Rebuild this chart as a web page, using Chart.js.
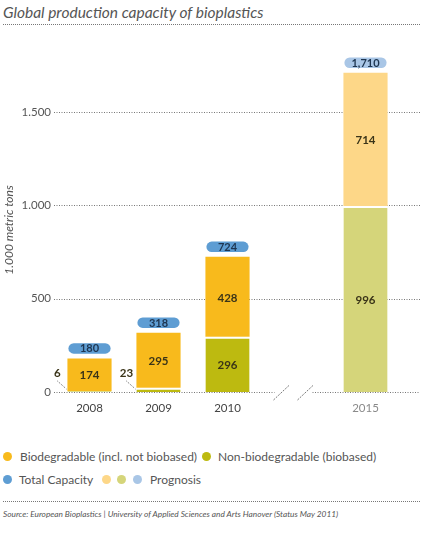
<!DOCTYPE html>
<html><head><meta charset="utf-8">
<script src="https://cdn.jsdelivr.net/npm/chart.js@4"></script>
<style>
body{margin:0;width:425px;height:545px;background:#fff;font-family:Lato,"Open Sans",sans-serif;color:#555;position:relative;overflow:hidden}
#title{position:absolute;left:3px;top:1px;font-style:italic;font-size:15.5px;line-height:22px;color:#555;white-space:nowrap}
.dl{position:absolute;left:3px;width:417px;height:0;border-top:1px dotted #777}
#wrap{position:absolute;left:0;top:40px;width:425px;height:380px}
.leg{position:absolute;font-size:12px;line-height:14px;color:#555;white-space:nowrap}
.dot{position:absolute;width:9px;height:9px;border-radius:50%}
#src{position:absolute;left:3px;top:509px;font-style:italic;font-size:8.3px;line-height:10px;color:#555;white-space:nowrap}
</style></head>
<body>
<div id="title">Global production capacity of bioplastics</div>
<div class="dl" style="top:24px"></div>
<div id="wrap"><canvas id="c"></canvas></div>

<div class="dot" style="left:3px;top:452px;background:#F8BA1C"></div>
<div class="leg" style="left:20px;top:450px">Biodegradable (incl. not biobased)</div>
<div class="dot" style="left:202px;top:452px;background:#BDBA10"></div>
<div class="leg" style="left:218px;top:450px">Non-biodegradable (biobased)</div>
<div class="dot" style="left:3px;top:475px;background:#5E9DD3"></div>
<div class="leg" style="left:19px;top:473px">Total Capacity</div>
<div class="dot" style="left:102px;top:475px;background:#FDD788"></div>
<div class="dot" style="left:117px;top:475px;background:#D5D57A"></div>
<div class="dot" style="left:133px;top:475px;background:#A9C6E6"></div>
<div class="leg" style="left:150px;top:473px">Prognosis</div>

<div class="dl" style="top:501px"></div>
<div id="src">Source: European Bioplastics | University of Applied Sciences and Arts Hanover (Status May 2011)</div>

<script>
const categories = ['2008', '2009', '2010', '', '2015'];
const nonBiodegradable = [6, 23, 296, null, 996];
const biodegradable = [174, 295, 428, null, 714];
const totalCapacity = [180, 318, 724, null, 1710];
const yTickValues = [0, 500, 1000, 1500];
const yTickLabels = ['0', '500', '1.000', '1.500'];
const prognosisCategory = '2015';
const breakAfterCategory = '2010';

const COL = {
  bio: '#F8BA1C', bioP: '#FDD788',
  non: '#BDBA10', nonP: '#D5D57A',
  tot: '#5E9DD3', totP: '#A9C6E6'
};
const isProg = i => categories[i] === prognosisCategory;

const overlay = {
  id: 'overlay',
  beforeDatasetsDraw(chart) {
    const {ctx, chartArea, scales: {x, y}} = chart;
    ctx.save();
    ctx.strokeStyle = '#777';
    ctx.lineWidth = 1;
    ctx.setLineDash([1, 1.5]);
    const right = 420;
    const bi = categories.indexOf(breakAfterCategory) + 1;
    const bx = (x.getPixelForValue(bi) + x.getPixelForValue(bi - 1)) / 2 + (x.getPixelForValue(bi + 1) - x.getPixelForValue(bi - 1)) / 4 - 3;
    yTickValues.forEach(v => {
      const py = Math.round(y.getPixelForValue(v)) + 0.5;
      ctx.beginPath();
      if (v === 0) {
        ctx.moveTo(chartArea.left - 1, py); ctx.lineTo(bx - 19, py);
        ctx.moveTo(bx + 19, py); ctx.lineTo(right, py);
      } else {
        ctx.moveTo(chartArea.left - 1, py); ctx.lineTo(right, py);
      }
      ctx.stroke();
    });
    const base = y.getPixelForValue(0);
    ctx.setLineDash([2, 1.2]);
    [-12, 12].forEach(d => {
      ctx.beginPath();
      ctx.moveTo(bx + d - 8, base + 8);
      ctx.lineTo(bx + d + 8, base - 7);
      ctx.stroke();
    });
    ctx.restore();
  },
  afterDatasetsDraw(chart) {
    const {ctx, scales: {x, y}} = chart;
    ctx.save();
    const base = y.getPixelForValue(0);
    chart.data.datasets.forEach((ds, di) => {
      chart.getDatasetMeta(di).data.forEach((bar, i) => {
        const v = ds.data[i];
        if (v == null) return;
        ctx.font = 'bold 11.5px Lato, "Open Sans", sans-serif';
        ctx.fillStyle = '#3a3418';
        ctx.textAlign = 'center';
        ctx.textBaseline = 'middle';
        if (v >= 50) {
          ctx.fillText(String(v), bar.x, (bar.y + bar.base) / 2 + 1);
        } else {
          const left = bar.x - bar.width / 2;
          const lx = left - 10;
          ctx.fillText(String(v), lx, base - 19);
          ctx.strokeStyle = '#555';
          ctx.lineWidth = 1;
          ctx.setLineDash([1, 1.3]);
          ctx.beginPath();
          ctx.moveTo(lx, base - 11);
          ctx.lineTo(left - 1, base - 3);
          ctx.stroke();
          ctx.setLineDash([]);
        }
      });
    });
    const meta = chart.getDatasetMeta(1);
    totalCapacity.forEach((t, i) => {
      if (t == null) return;
      const bar = meta.data[i];
      const py = y.getPixelForValue(t) - 10;
      const w = bar.width - 2, h = 10.5;
      ctx.fillStyle = isProg(i) ? COL.totP : COL.tot;
      ctx.beginPath();
      ctx.roundRect(bar.x - w / 2, py - h / 2, w, h, h / 2);
      ctx.fill();
      ctx.font = 'bold 11px Lato, "Open Sans", sans-serif';
      ctx.fillStyle = '#1e3550';
      ctx.textAlign = 'center';
      ctx.textBaseline = 'middle';
      ctx.fillText(t.toLocaleString('en-US'), bar.x, py + 0.5);
    });
    ctx.translate(9, 190);
    ctx.rotate(-Math.PI / 2);
    ctx.font = 'italic 12px Lato, "Open Sans", sans-serif';
    ctx.fillStyle = '#555';
    ctx.textAlign = 'center';
    ctx.textBaseline = 'middle';
    ctx.fillText('1.000 metric tons', 0, 0);
    ctx.restore();
  }
};

new Chart(document.getElementById('c'), {
  type: 'bar',
  data: {
    labels: categories,
    datasets: [
      {
        label: 'Non-biodegradable (biobased)',
        data: nonBiodegradable,
        backgroundColor: categories.map((c, i) => isProg(i) ? COL.nonP : COL.non),
        borderColor: '#fff',
        borderWidth: {top: 2, left: 0, right: 0, bottom: 0},
        borderSkipped: false,
        stack: 's'
      },
      {
        label: 'Biodegradable (incl. not biobased)',
        data: biodegradable,
        backgroundColor: categories.map((c, i) => isProg(i) ? COL.bioP : COL.bio),
        borderWidth: 0,
        stack: 's'
      }
    ]
  },
  options: {
    responsive: true,
    maintainAspectRatio: false,
    animation: false,
    layout: {padding: {top: 16, right: 25, bottom: 0, left: 0}},
    plugins: {legend: {display: false}, tooltip: {enabled: false}},
    datasets: {bar: {categoryPercentage: 1, barPercentage: 0.64, inflateAmount: 0}},
    scales: {
      x: {
        stacked: true,
        grid: {display: false, drawTicks: false},
        border: {display: false},
        afterFit: s => { s.height = 28; },
        ticks: {
          padding: 9,
          font: {family: 'Lato, "Open Sans", sans-serif', size: 11.5},
          color: c => categories[c.index] === prognosisCategory ? '#8a8a8a' : '#444'
        }
      },
      y: {
        stacked: true,
        min: 0, max: 1800,
        grid: {display: false, drawTicks: false},
        border: {display: false},
        afterFit: s => { s.width = 55; },
        afterBuildTicks: s => { s.ticks = yTickValues.map(v => ({value: v})); },
        ticks: {
          padding: 4,
          font: {family: 'Lato, "Open Sans", sans-serif', size: 11.5},
          color: '#555',
          callback: v => yTickLabels[yTickValues.indexOf(v)]
        }
      }
    }
  },
  plugins: [overlay]
});
</script>
</body></html>
